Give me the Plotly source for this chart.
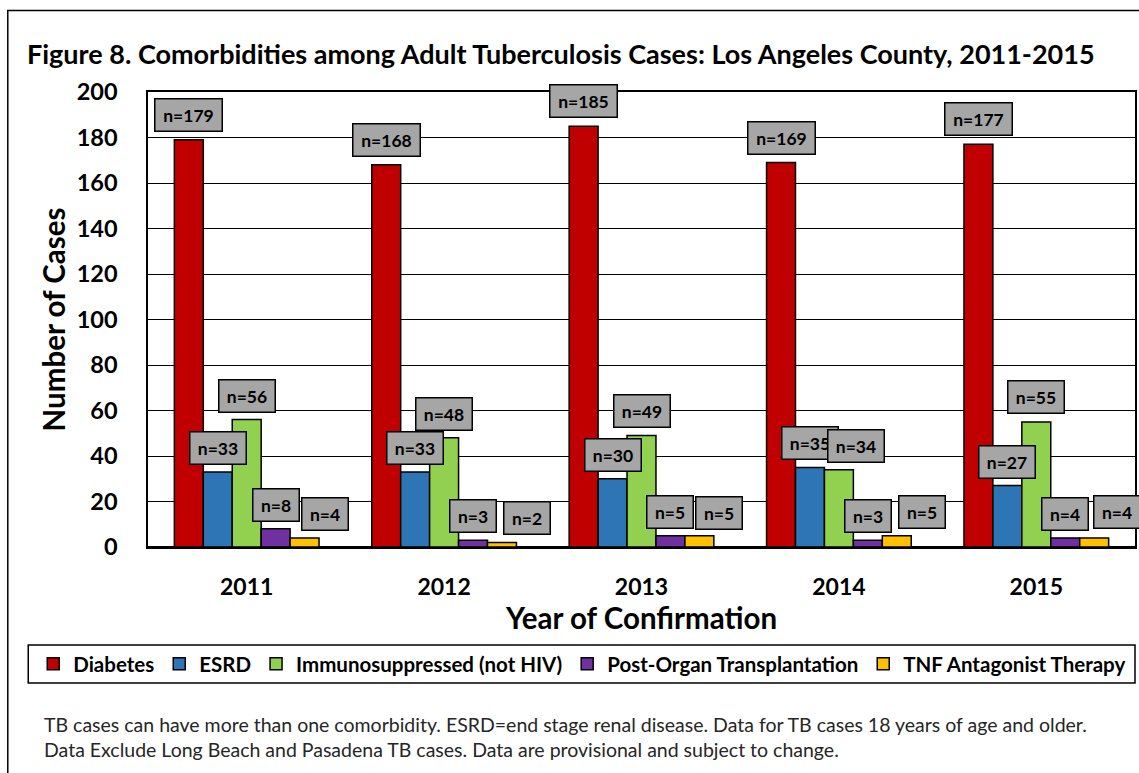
import plotly.graph_objects as go

# ---- data -------------------------------------------------------------
years = [2011, 2012, 2013, 2014, 2015]
series_names = [
    "Diabetes",
    "ESRD",
    "Immunosuppressed (not HIV)",
    "Post-Organ Transplantation",
    "TNF Antagonist Therapy",
]
diabetes = [179, 168, 185, 169, 177]
esrd = [33, 33, 30, 35, 27]
immunosuppressed = [56, 48, 49, 34, 55]
post_organ = [8, 3, 5, 3, 4]
tnf_antagonist = [4, 2, 5, 5, 4]
series_values = [diabetes, esrd, immunosuppressed, post_organ, tnf_antagonist]
y_ticks = [0, 20, 40, 60, 80, 100, 120, 140, 160, 180, 200]

# ---- styling ----------------------------------------------------------
colors = ["#C00000", "#2E75B6", "#92D050", "#7030A0", "#FFC000"]
FONT = "Lato"

# value-label placement: pixel nudges relative to the top-centre of each bar
label_dx = [
    [0, 0, 0, 0, 0],
    [0, 0, 0, 0, 0],
    [0, 0, 0, 17.5, 0],
    [0, 0, 0, 0, 0],
    [20, 25, 20, 25, 23],
]
label_dy = [
    [25, 25, 25, 25, 25],
    [24, 24, 24, 24, 24],
    [24, 24, 24.5, 24, 24.5],
    [24, 24, 24, 24, 24],
    [24, 24, 22.5, 24, 26],
]
box_width = {1: 45, 2: 55, 3: 66}

W, H = 1139, 773
ML, MR, MT, MB = 148, 2, 92, 226
BARGAP = 0.267
n_series = len(series_values)
bar_w = (1 - BARGAP) / n_series


def px_to_paper_x(px):
    return (px - ML) / (W - ML - MR)


def px_to_paper_y(py):
    return (H - MB - py) / (H - MT - MB)


fig = go.Figure()
for name, vals, col in zip(series_names, series_values, colors):
    fig.add_trace(
        go.Bar(
            x=years,
            y=vals,
            name=name,
            marker=dict(color=col, line=dict(color="black", width=1.5)),
            hoverinfo="x+y+name",
        )
    )

# boxed "n=" value labels
annotations = []
for k, vals in enumerate(series_values):
    for i, (yr, v) in enumerate(zip(years, vals)):
        txt = f"n={v}"
        annotations.append(
            dict(
                x=yr + (k - (n_series - 1) / 2) * bar_w,
                y=v,
                xref="x",
                yref="y",
                text=txt,
                showarrow=False,
                xanchor="center",
                yanchor="middle",
                xshift=label_dx[k][i],
                yshift=label_dy[k][i],
                font=dict(family=FONT, size=17.5, color="black", weight="bold"),
                bgcolor="#A6A6A6",
                bordercolor="black",
                borderwidth=1.5,
                borderpad=0,
                width=box_width[len(str(v))],
                height=31,
                align="center",
                valign="middle",
            )
        )

# footnote
annotations.append(
    dict(
        x=px_to_paper_x(42),
        y=px_to_paper_y(737),
        xref="paper",
        yref="paper",
        xanchor="left",
        yanchor="middle",
        align="left",
        showarrow=False,
        text=(
            "TB cases can have more than one comorbidity. ESRD=end stage renal disease. "
            "Data for TB cases 18 years of age and older.<br>"
            "Data Exclude Long Beach and Pasadena TB cases. Data are provisional and subject to change."
        ),
        font=dict(family=FONT, size=19.5, color="#262626"),
    )
)

shapes = [
    # outer frame of the figure
    dict(
        type="rect",
        xref="paper",
        yref="paper",
        x0=px_to_paper_x(7.5),
        x1=px_to_paper_x(1145),
        y0=px_to_paper_y(790),
        y1=px_to_paper_y(10.5),
        line=dict(color="black", width=1.5),
        fillcolor="rgba(0,0,0,0)",
        layer="below",
    ),
    # legend frame
    dict(
        type="rect",
        xref="paper",
        yref="paper",
        x0=px_to_paper_x(28),
        x1=px_to_paper_x(1137),
        y0=px_to_paper_y(683),
        y1=px_to_paper_y(645),
        line=dict(color="black", width=1.5),
        fillcolor="rgba(0,0,0,0)",
    ),
]

fig.update_layout(
    width=W,
    height=H,
    margin=dict(l=ML, r=MR, t=MT, b=MB),
    paper_bgcolor="white",
    plot_bgcolor="white",
    barmode="group",
    bargap=BARGAP,
    bargroupgap=0,
    font=dict(family=FONT, color="black"),
    title=dict(
        text="Figure 8. Comorbidities among Adult Tuberculosis Cases: Los Angeles County, 2011-2015",
        x=27 / W,
        xanchor="left",
        y=1 - 55 / H,
        yanchor="middle",
        font=dict(family=FONT, size=27, color="black", weight="bold"),
    ),
    showlegend=True,
    legend=dict(
        orientation="h",
        x=px_to_paper_x(33),
        xanchor="left",
        y=px_to_paper_y(664),
        yanchor="middle",
        font=dict(family=FONT, size=20.5, color="black", weight="bold"),
        bgcolor="rgba(0,0,0,0)",
        borderwidth=0,
        itemwidth=30,
        traceorder="normal",
    ),
    xaxis=dict(
        range=[2010.5, 2015.5],
        tickmode="array",
        tickvals=years,
        ticktext=[str(y) for y in years],
        tickfont=dict(family=FONT, size=23, color="black", weight="bold"),
        ticklabelstandoff=19,
        ticks="",
        showgrid=False,
        showline=True,
        linecolor="black",
        linewidth=1.5,
        mirror=True,
        zeroline=False,
        title=dict(
            text="Year of Confirmation",
            font=dict(family=FONT, size=29.5, color="black", weight="bold"),
            standoff=4,
        ),
        fixedrange=True,
    ),
    yaxis=dict(
        range=[0, 200],
        tickmode="array",
        tickvals=y_ticks,
        tickfont=dict(family=FONT, size=23.5, color="black", weight="bold"),
        ticklabelstandoff=24,
        ticks="",
        showgrid=True,
        gridcolor="black",
        gridwidth=1,
        showline=True,
        linecolor="black",
        linewidth=1.5,
        mirror=True,
        zeroline=True,
        zerolinecolor="black",
        zerolinewidth=1.5,
        title=dict(
            text="Number of Cases",
            font=dict(family=FONT, size=29.5, color="black", weight="bold"),
            standoff=2,
        ),
        fixedrange=True,
    ),
    annotations=annotations,
    shapes=shapes,
)

fig.write_html("out.html")
